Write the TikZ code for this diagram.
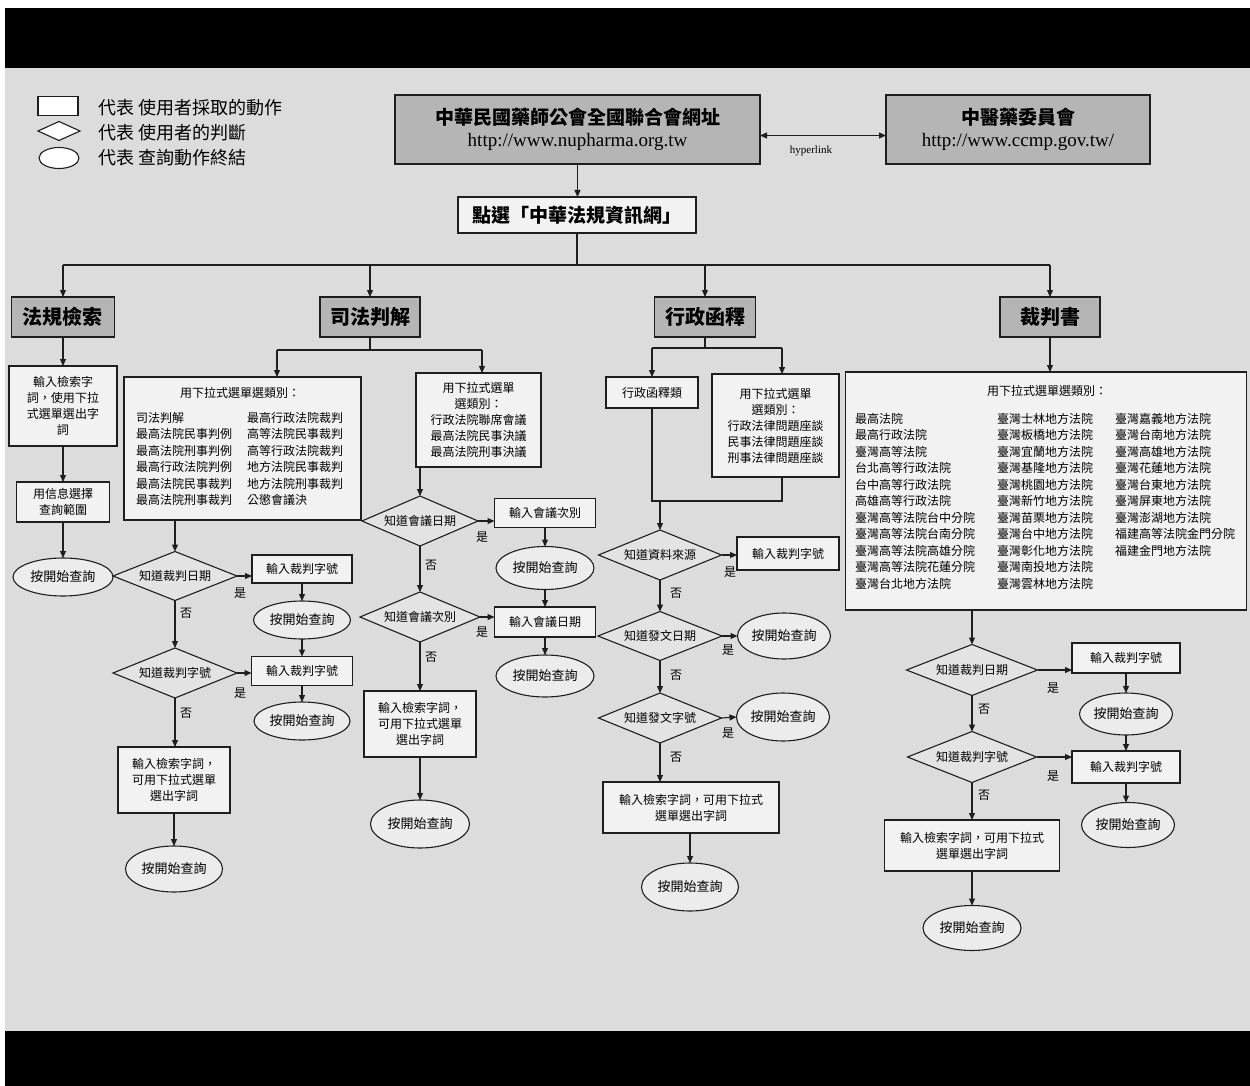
\documentclass[tikz,border=0pt]{standalone}
\usepackage{fontspec}
\setmainfont{Liberation Serif}
\newfontfamily\cjk{Noto Sans CJK TC}
\usetikzlibrary{shapes.geometric,arrows.meta,calc}
\definecolor{bgc}{HTML}{DCDCDC}
\definecolor{boxc}{HTML}{F2F2F2}
\definecolor{hdrc}{HTML}{B5B5B5}
\definecolor{diac}{HTML}{E3E3E3}
\definecolor{ellc}{HTML}{ECECEC}
\definecolor{linec}{HTML}{1E1E1E}
\newcommand\myfs[2]{\fontsize{#1}{#2}\selectfont}
\begin{document}
\begin{tikzpicture}[x=1pt,y=-1pt,
  every node/.style={inner sep=0pt, outer sep=0pt},
  base/.style={draw=linec, line width=1.1pt},
  act/.style={base, rectangle, fill=boxc, align=center, font=\cjk\myfs{12}{16}},
  hdr/.style={base, rectangle, fill=hdrc, align=center, font=\cjk\bfseries\myfs{20}{22}},
  dec/.style={base, diamond, fill=diac, aspect=2.5, font=\cjk\myfs{12}{14}},
  endn/.style={base, ellipse, fill=ellc, font=\cjk\myfs{13}{15}},
  lbl/.style={font=\cjk\myfs{12}{14}},
  lst/.style={anchor=north west, align=left, font=\cjk\myfs{12}{16.5}},
  ln/.style={draw=linec, line width=1.1pt},
  arr/.style={draw=linec, line width=1.1pt, -{Triangle[length=7pt,width=6pt]}},
  sz/.style 2 args={minimum width=#1pt, minimum height=#2pt},
]
\useasboundingbox (0,0) rectangle (1250,1086);
% background
\fill[white] (0,0) rectangle (1250,1086);
\fill[black] (5,8) rectangle (1250,68);
\fill[bgc] (5,68) rectangle (1250,1031);
\fill[black] (5,1031) rectangle (1250,1086);

% legend
\node[base, fill=white, sz={40}{19}] (lg1) at (58,106) {};
\node[base, diamond, fill=white, sz={42}{19}] (lg2) at (59,131) {};
\node[base, ellipse, fill=white, sz={40}{21}] (lg3) at (59,158) {};
\node[anchor=west, font=\cjk\myfs{18}{20}] (lt1) at (98,108) {代表 使用者採取的動作};
\node[anchor=west, font=\cjk\myfs{18}{20}] (lt2) at (98,133) {代表 使用者的判斷};
\node[anchor=west, font=\cjk\myfs{18}{20}] (lt3) at (98,158) {代表 查詢動作終結};

% top boxes
\node[hdr, sz={365}{69}] (top1) at (577.5,129.5) {};
\node[font=\cjk\bfseries\myfs{19}{22}] (t1a) at (577.5,117) {中華民國藥師公會全國聯合會網址};
\node[font=\myfs{19}{22}] (t1b) at (577.5,142) {http://www.nupharma.org.tw};
\node[hdr, sz={264}{69}] (top2) at (1018,129.5) {};
\node[font=\cjk\bfseries\myfs{19}{22}] (t2a) at (1018,117) {中醫藥委員會};
\node[font=\myfs{19}{22}] (t2b) at (1018,142) {http://www.ccmp.gov.tw/};
\draw[ln, {Triangle[length=7pt,width=6pt]}-{Triangle[length=7pt,width=6pt]}] ([yshift=-6pt]top1.east) -- ([yshift=-6pt]top2.west);
\node[font=\myfs{11}{12}] (hl) at (811,151) {hyperlink};

\node[act, font=\cjk\bfseries\myfs{19}{22}, sz={238}{36}] (sel) at (577,215) {點選「中華法規資訊網」};
\draw[arr] (top1.south) -- (top1.south |- sel.north);

% headings
\node[hdr, sz={103}{40}] (h1) at (63,317) {法規檢索};
\node[hdr, sz={100}{40}] (h2) at (370,317) {司法判解};
\node[hdr, sz={101}{40}] (h3) at (705,317) {行政函釋};
\node[hdr, sz={100}{40}] (h4) at (1050,317) {裁判書};

\coordinate (busl) at (63,265);
\coordinate (busr) at (1050,265);
\draw[ln] (sel.south) -- (sel.south |- busl);
\draw[ln] (busl) -- (busr);
\draw[arr] (busl) -- (h1.north);
\draw[arr] (h2.north |- busl) -- (h2.north);
\draw[arr] (h3.north |- busl) -- (h3.north);
\draw[arr] (busr) -- (h4.north);

% column 1
\node[act, sz={108}{80}] (c1a) at (63,406) {輸入檢索字\\詞，使用下拉\\式選單選出字\\詞};
\node[act, sz={93}{40}] (c1b) at (63,502) {用信息選擇\\查詢範圍};
\node[endn, sz={100}{38}] (c1c) at (63,577) {按開始查詢};
\draw[arr] (h1.south) -- (c1a.north);
\draw[arr] (c1a.south) -- (c1b.north);
\draw[arr] (c1b.south) -- (c1c.north);

% column 2
\node[act, sz={237}{143}] (c2box) at (242.5,448.5) {};
\node[lbl] (c2t) at (240,393) {用下拉式選單選類別：};
\node[lst] (c2l) at (136,412) {司法判解\\最高法院民事判例\\最高法院刑事判例\\最高行政法院判例\\最高法院民事裁判\\最高法院刑事裁判};
\node[lst] (c2r) at (247,412) {最高行政法院裁判\\高等法院民事裁判\\高等行政法院裁判\\地方法院民事裁判\\地方法院刑事裁判\\公懲會議決};
\node[act, sz={125}{94}] (c2sm) at (478.5,420) {用下拉式選單\\選類別：\\行政法院聯席會議\\最高法院民事決議\\最高法院刑事決議};
\coordinate (j2l) at (277,350);
\coordinate (j2r) at (482,350);
\draw[ln] (h2.south) -- (h2.south |- j2l);
\draw[ln] (j2l) -- (j2r);
\draw[arr] (j2l) -- (j2l |- c2box.north);
\draw[arr] (j2r) -- (j2r |- c2sm.north);

\node[dec, sz={124}{49}] (d21) at (175,576) {知道裁判日期};
\node[act, sz={100}{28}] (b21) at (302,569) {輸入裁判字號};
\node[endn, sz={97}{38}] (e21) at (302,620) {按開始查詢};
\node[dec, sz={124}{50}] (d22) at (175,673) {知道裁判字號};
\node[act, sz={101}{29}] (b22) at (302,671) {輸入裁判字號};
\node[endn, sz={96}{38}] (e22) at (302,721) {按開始查詢};
\node[act, sz={112}{66}] (b23) at (174,780) {輸入檢索字詞，\\可用下拉式選單\\選出字詞};
\node[endn, sz={97}{46}] (e23) at (174,869) {按開始查詢};
\node[lbl] (y21) at (240,593) {是};
\node[lbl] (n21) at (186,613) {否};
\node[lbl] (y22) at (240,693) {是};
\node[lbl] (n22) at (186,713) {否};
\draw[arr] (c2box.south -| d21.north) -- (d21.north);
\draw[arr] (d21.east) -- (d21.east -| b21.west);
\draw[arr] (b21.south) -- (e21.north);
\draw[arr] (d21.south) -- (d22.north);
\draw[arr] (e21.south) -- (b22.north);
\draw[arr] (d22.east) -- (d22.east -| b22.west);
\draw[arr] (b22.south) -- (e22.north);
\draw[arr] (d22.south) -- (d22.south |- b23.north);
\draw[arr] (b23.south) -- (e23.north);

\node[dec, sz={116}{50}] (d23) at (420,521) {知道會議日期};
\node[act, sz={101}{29}] (b24) at (545,513) {輸入會議次別};
\node[endn, sz={98}{43}] (e24) at (545,568) {按開始查詢};
\node[dec, sz={120}{50}] (d24) at (420,617) {知道會議次別};
\node[act, sz={101}{30}] (b25) at (545,622) {輸入會議日期};
\node[endn, sz={98}{42}] (e25) at (545,676) {按開始查詢};
\node[act, sz={112}{66}] (b26) at (420,724) {輸入檢索字詞，\\可用下拉式選單\\選出字詞};
\node[endn, sz={99}{48}] (e26) at (420,824) {按開始查詢};
\node[lbl] (y23) at (482,537) {是};
\node[lbl] (n23) at (431,565) {否};
\node[lbl] (y24) at (482,632) {是};
\node[lbl] (n24) at (431,657) {否};
\draw[arr] (c2sm.south -| d23.north) -- (d23.north);
\draw[arr] (d23.east) -- (d23.east -| b24.west);
\draw[arr] (b24.south) -- (e24.north);
\draw[arr] (d23.south) -- (d24.north);
\draw[arr] (e24.south) -- (b25.north);
\draw[arr] (d24.east) -- (d24.east -| b25.west);
\draw[arr] (b25.south) -- (e25.north);
\draw[arr] (d24.south) -- (b26.north);
\draw[arr] (b26.south) -- (e26.north);

% column 3
\coordinate (j3l) at (652,348);
\coordinate (j3r) at (782,348);
\node[act, sz={92}{31}] (b31) at (652,392.5) {行政函釋類};
\node[act, sz={127}{103}] (b32) at (775.5,425.5) {用下拉式選單\\選類別：\\行政法律問題座談\\民事法律問題座談\\刑事法律問題座談};
\draw[ln] (h3.south) -- (h3.south |- j3l);
\draw[ln] (j3l) -- (j3r);
\draw[arr] (j3l) -- (b31.north);
\draw[arr] (j3r) -- (j3r |- b32.north);
\coordinate (m3l) at (652,501);
\coordinate (m3r) at (782,501);
\coordinate (m3a) at (660,501);
\draw[ln] (b31.south) -- (m3l) -- (m3r) -- (m3r |- b32.south);

\node[dec, sz={123}{50}] (d31) at (660,555) {知道資料來源};
\node[act, sz={102}{33}] (b33) at (788,553.5) {輸入裁判字號};
\node[dec, sz={124}{49}] (d32) at (660,636) {知道發文日期};
\node[endn, sz={93}{46}] (e31) at (784,636) {按開始查詢};
\node[dec, sz={123}{50}] (d33) at (660,718) {知道發文字號};
\node[endn, sz={93}{48}] (e32) at (783,717) {按開始查詢};
\node[act, sz={176}{51}] (b34) at (691,807.5) {輸入檢索字詞，可用下拉式\\選單選出字詞};
\node[endn, sz={97}{48}] (e33) at (690,887) {按開始查詢};
\node[lbl] (y31) at (730,572) {是};
\node[lbl] (n31) at (676,593) {否};
\node[lbl] (y32) at (728,650) {是};
\node[lbl] (n32) at (676,675) {否};
\node[lbl] (y33) at (728,733) {是};
\node[lbl] (n33) at (676,757) {否};
\draw[arr] (m3a) -- (d31.north);
\draw[arr] (d31.east) -- (d31.east -| b33.west);
\draw[arr] (d31.south) -- (d32.north);
\draw[arr] (d32.east) -- (e31.west);
\draw[arr] (d32.south) -- (d33.north);
\draw[arr] (d33.east) -- (e32.west);
\draw[arr] (d33.south) -- (d33.south |- b34.north);
\draw[arr] (b34.south -| e33.north) -- (e33.north);

% column 4
\node[act, sz={401}{238}] (b4) at (1046,491) {};
\node[lbl] (b4t) at (1047,391) {用下拉式選單選類別：};
\node[lst] (l41) at (855,413) {最高法院\\最高行政法院\\臺灣高等法院\\台北高等行政法院\\台中高等行政法院\\高雄高等行政法院\\臺灣高等法院台中分院\\臺灣高等法院台南分院\\臺灣高等法院高雄分院\\臺灣高等法院花蓮分院\\臺灣台北地方法院};
\node[lst] (l42) at (997,413) {臺灣士林地方法院\\臺灣板橋地方法院\\臺灣宜蘭地方法院\\臺灣基隆地方法院\\臺灣桃園地方法院\\臺灣新竹地方法院\\臺灣苗栗地方法院\\臺灣台中地方法院\\臺灣彰化地方法院\\臺灣南投地方法院\\臺灣雲林地方法院};
\node[lst] (l43) at (1115,413) {臺灣嘉義地方法院\\臺灣台南地方法院\\臺灣高雄地方法院\\臺灣花蓮地方法院\\臺灣台東地方法院\\臺灣屏東地方法院\\臺灣澎湖地方法院\\福建高等法院金門分院\\福建金門地方法院};
\draw[arr] (h4.south) -- (b4.north -| h4.south);

\node[dec, sz={131}{51}] (d41) at (972,670) {知道裁判日期};
\node[act, sz={108}{30}] (b41) at (1126,658) {輸入裁判字號};
\node[endn, sz={93}{42}] (e41) at (1126,714) {按開始查詢};
\node[dec, sz={129}{51}] (d42) at (972,757) {知道裁判字號};
\node[act, sz={108}{32}] (b42) at (1126,767) {輸入裁判字號};
\node[endn, sz={93}{45}] (e42) at (1128,825) {按開始查詢};
\node[act, sz={175}{51}] (b43) at (972,845.5) {輸入檢索字詞，可用下拉式\\選單選出字詞};
\node[endn, sz={98}{45}] (e43) at (972,928) {按開始查詢};
\node[lbl] (y41) at (1053,688) {是};
\node[lbl] (n41) at (984,709) {否};
\node[lbl] (y42) at (1053,776) {是};
\node[lbl] (n42) at (984,795) {否};
\draw[arr] (b4.south -| d41.north) -- (d41.north);
\draw[arr] (d41.east) -- (d41.east -| b41.west);
\draw[arr] (b41.south) -- (e41.north);
\draw[arr] (d41.south) -- (d42.north);
\draw[arr] (e41.south) -- (e41.south |- b42.north);
\draw[arr] (d42.east) -- (d42.east -| b42.west);
\draw[arr] (b42.south) -- (b42.south |- e42.north);
\draw[arr] (d42.south) -- (b43.north);
\draw[arr] (b43.south) -- (e43.north);
\end{tikzpicture}
\end{document}
